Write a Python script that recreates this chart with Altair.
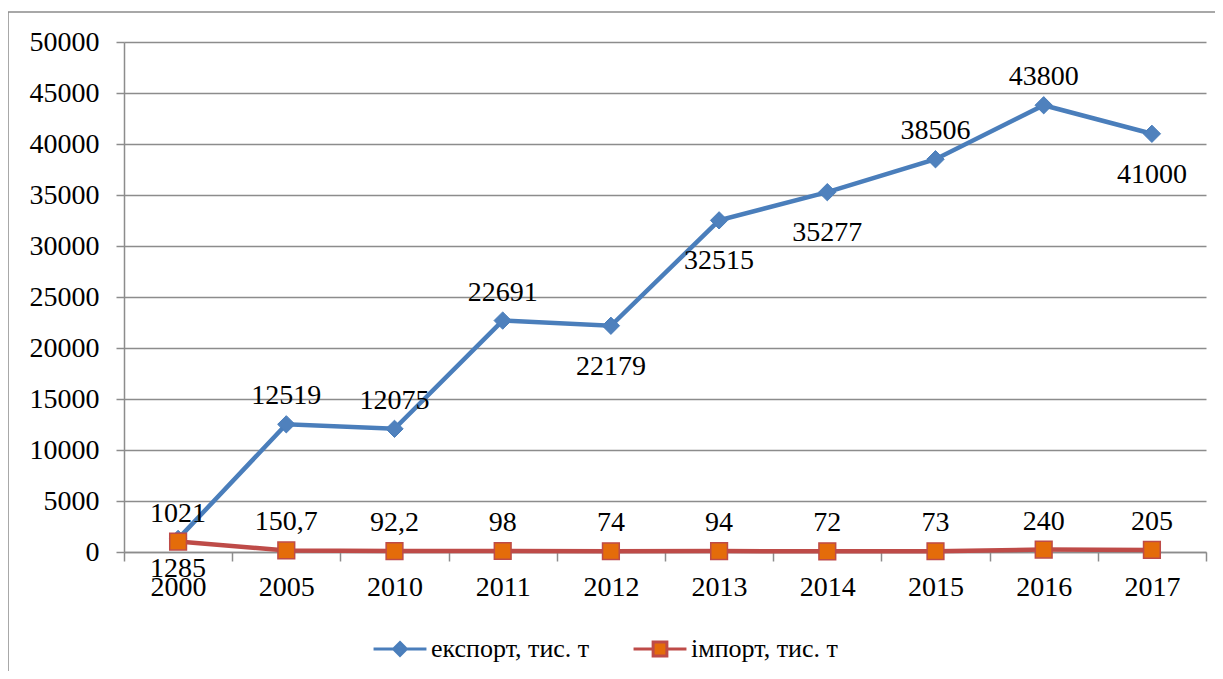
import altair as alt
import pandas as pd

# ---- data ----
years = ["2000", "2005", "2010", "2011", "2012", "2013", "2014", "2015", "2016", "2017"]
export_vals = [1285, 12519, 12075, 22691, 22179, 32515, 35277, 38506, 43800, 41000]
import_vals = [1021, 150.7, 92.2, 98, 74, 94, 72, 73, 240, 205]
series_names = ["експорт, тис. т", "імпорт, тис. т"]
y_ticks = list(range(0, 50001, 5000))
# label placement (which export labels sit below their point)
export_labels_below = ["2012", "2013", "2014", "2017"]
export_labels_below_near = ["2000"]


def fmt(v):
    return f"{v:g}".replace(".", ",")


def place(y):
    if y in export_labels_below:
        return "below"
    if y in export_labels_below_near:
        return "near"
    return "above"


rows = []
for y, v in zip(years, export_vals):
    rows.append({"year": y, "series": series_names[0], "value": v, "label": fmt(v), "pos": place(y)})
for y, v in zip(years, import_vals):
    rows.append({"year": y, "series": series_names[1], "value": v, "label": fmt(v), "pos": "above"})
df = pd.DataFrame(rows)

FONT = "Liberation Serif, Times New Roman, serif"
BLUE_LINE = "#4A7EBB"
BLUE_FILL = "#4F81BD"
RED_LINE = "#BE4B48"
ORANGE = "#E46C0A"
GRID = "#8C8C8C"

x_enc = alt.X(
    "year:N", sort=years, bandPosition=0.5,
    scale=alt.Scale(type="band", domain=years, paddingInner=0, paddingOuter=0),
    axis=alt.Axis(title=None, labelFont=FONT, labelFontSize=28, labelColor="black", labelAngle=0,
                  domainColor=GRID, domainWidth=1.5, tickColor=GRID, tickWidth=1.5, tickSize=9,
                  tickBand="extent", labelPadding=12, grid=False),
)
y_enc = alt.Y(
    "value:Q",
    scale=alt.Scale(domain=[0, 50000], nice=False),
    axis=alt.Axis(title=None, values=y_ticks, format="d", labelFont=FONT, labelFontSize=28,
                  labelColor="black", tickSize=8, labelPadding=17, gridColor=GRID, gridWidth=1.5,
                  domainColor=GRID, domainWidth=1.5, tickColor=GRID, tickWidth=1.5),
)

base = alt.Chart(df)

border = alt.Chart(pd.DataFrame({"k": [0]})).mark_rect(
    fillOpacity=0, stroke=GRID, strokeWidth=1.5
).encode(x=alt.value(-116), x2=alt.value(1100), y=alt.value(-30), y2=alt.value(700))

exp_line = base.transform_filter(alt.datum.series == series_names[0]).mark_line(
    color=BLUE_LINE, strokeWidth=4.5).encode(x=x_enc, y=y_enc)
exp_pts = base.transform_filter(alt.datum.series == series_names[0]).mark_point(
    shape="diamond", filled=True, fill=BLUE_FILL, stroke=BLUE_LINE, strokeWidth=1, size=300, opacity=1
).encode(x=x_enc, y=y_enc)
imp_line = base.transform_filter(alt.datum.series == series_names[1]).mark_line(
    color=RED_LINE, strokeWidth=4.5).encode(x=x_enc, y=y_enc)
imp_pts = base.transform_filter(alt.datum.series == series_names[1]).mark_point(
    shape="square", filled=True, fill=ORANGE, stroke=RED_LINE, strokeWidth=1.5, size=280, opacity=1
).encode(x=x_enc, y=y_enc)

lab_above = base.transform_filter(alt.datum.pos == "above").mark_text(
    font=FONT, fontSize=28, color="black", baseline="middle", dy=-28
).encode(x=x_enc, y=y_enc, text="label:N")
lab_below = base.transform_filter(alt.datum.pos == "below").mark_text(
    font=FONT, fontSize=28, color="black", baseline="middle", dy=41
).encode(x=x_enc, y=y_enc, text="label:N")
lab_near = base.transform_filter(alt.datum.pos == "near").mark_text(
    font=FONT, fontSize=28, color="black", baseline="middle", dy=30
).encode(x=x_enc, y=y_enc, text="label:N")

PATH_EXP = "M-1,0L1,0M0,-0.24L0.24,0L0,0.24L-0.24,0Z"
PATH_IMP = "M-1,0L-0.26,0M0.26,0L1,0M-0.26,-0.26L0.26,-0.26L0.26,0.26L-0.26,0.26Z"

leg = alt.Legend(title=None, orient="none", legendX=248, legendY=579, direction="horizontal",
                 labelFont=FONT, labelFontSize=26, labelColor="black", symbolSize=2800,
                 symbolStrokeWidth=3, symbolOpacity=1, labelOffset=3, columnPadding=37)

legend_layer = base.transform_filter("false").mark_point(filled=True, opacity=1).encode(
    x=x_enc, y=y_enc,
    shape=alt.Shape("series:N", scale=alt.Scale(domain=series_names, range=[PATH_EXP, PATH_IMP]), legend=leg),
    fill=alt.Fill("series:N", scale=alt.Scale(domain=series_names, range=[BLUE_FILL, ORANGE]), legend=leg),
    stroke=alt.Stroke("series:N", scale=alt.Scale(domain=series_names, range=[BLUE_LINE, RED_LINE]), legend=leg),
)

chart = alt.layer(
    border, exp_line, exp_pts, imp_line, imp_pts, lab_above, lab_below, lab_near, legend_layer
).properties(
    width=1082, height=510,
    padding={"left": 116, "top": 34, "right": 9, "bottom": 119},
    autosize=alt.AutoSizeParams(type="none"),
).configure_view(stroke=None)

chart.save("out.html", embed_options={"renderer": "svg", "actions": False})
